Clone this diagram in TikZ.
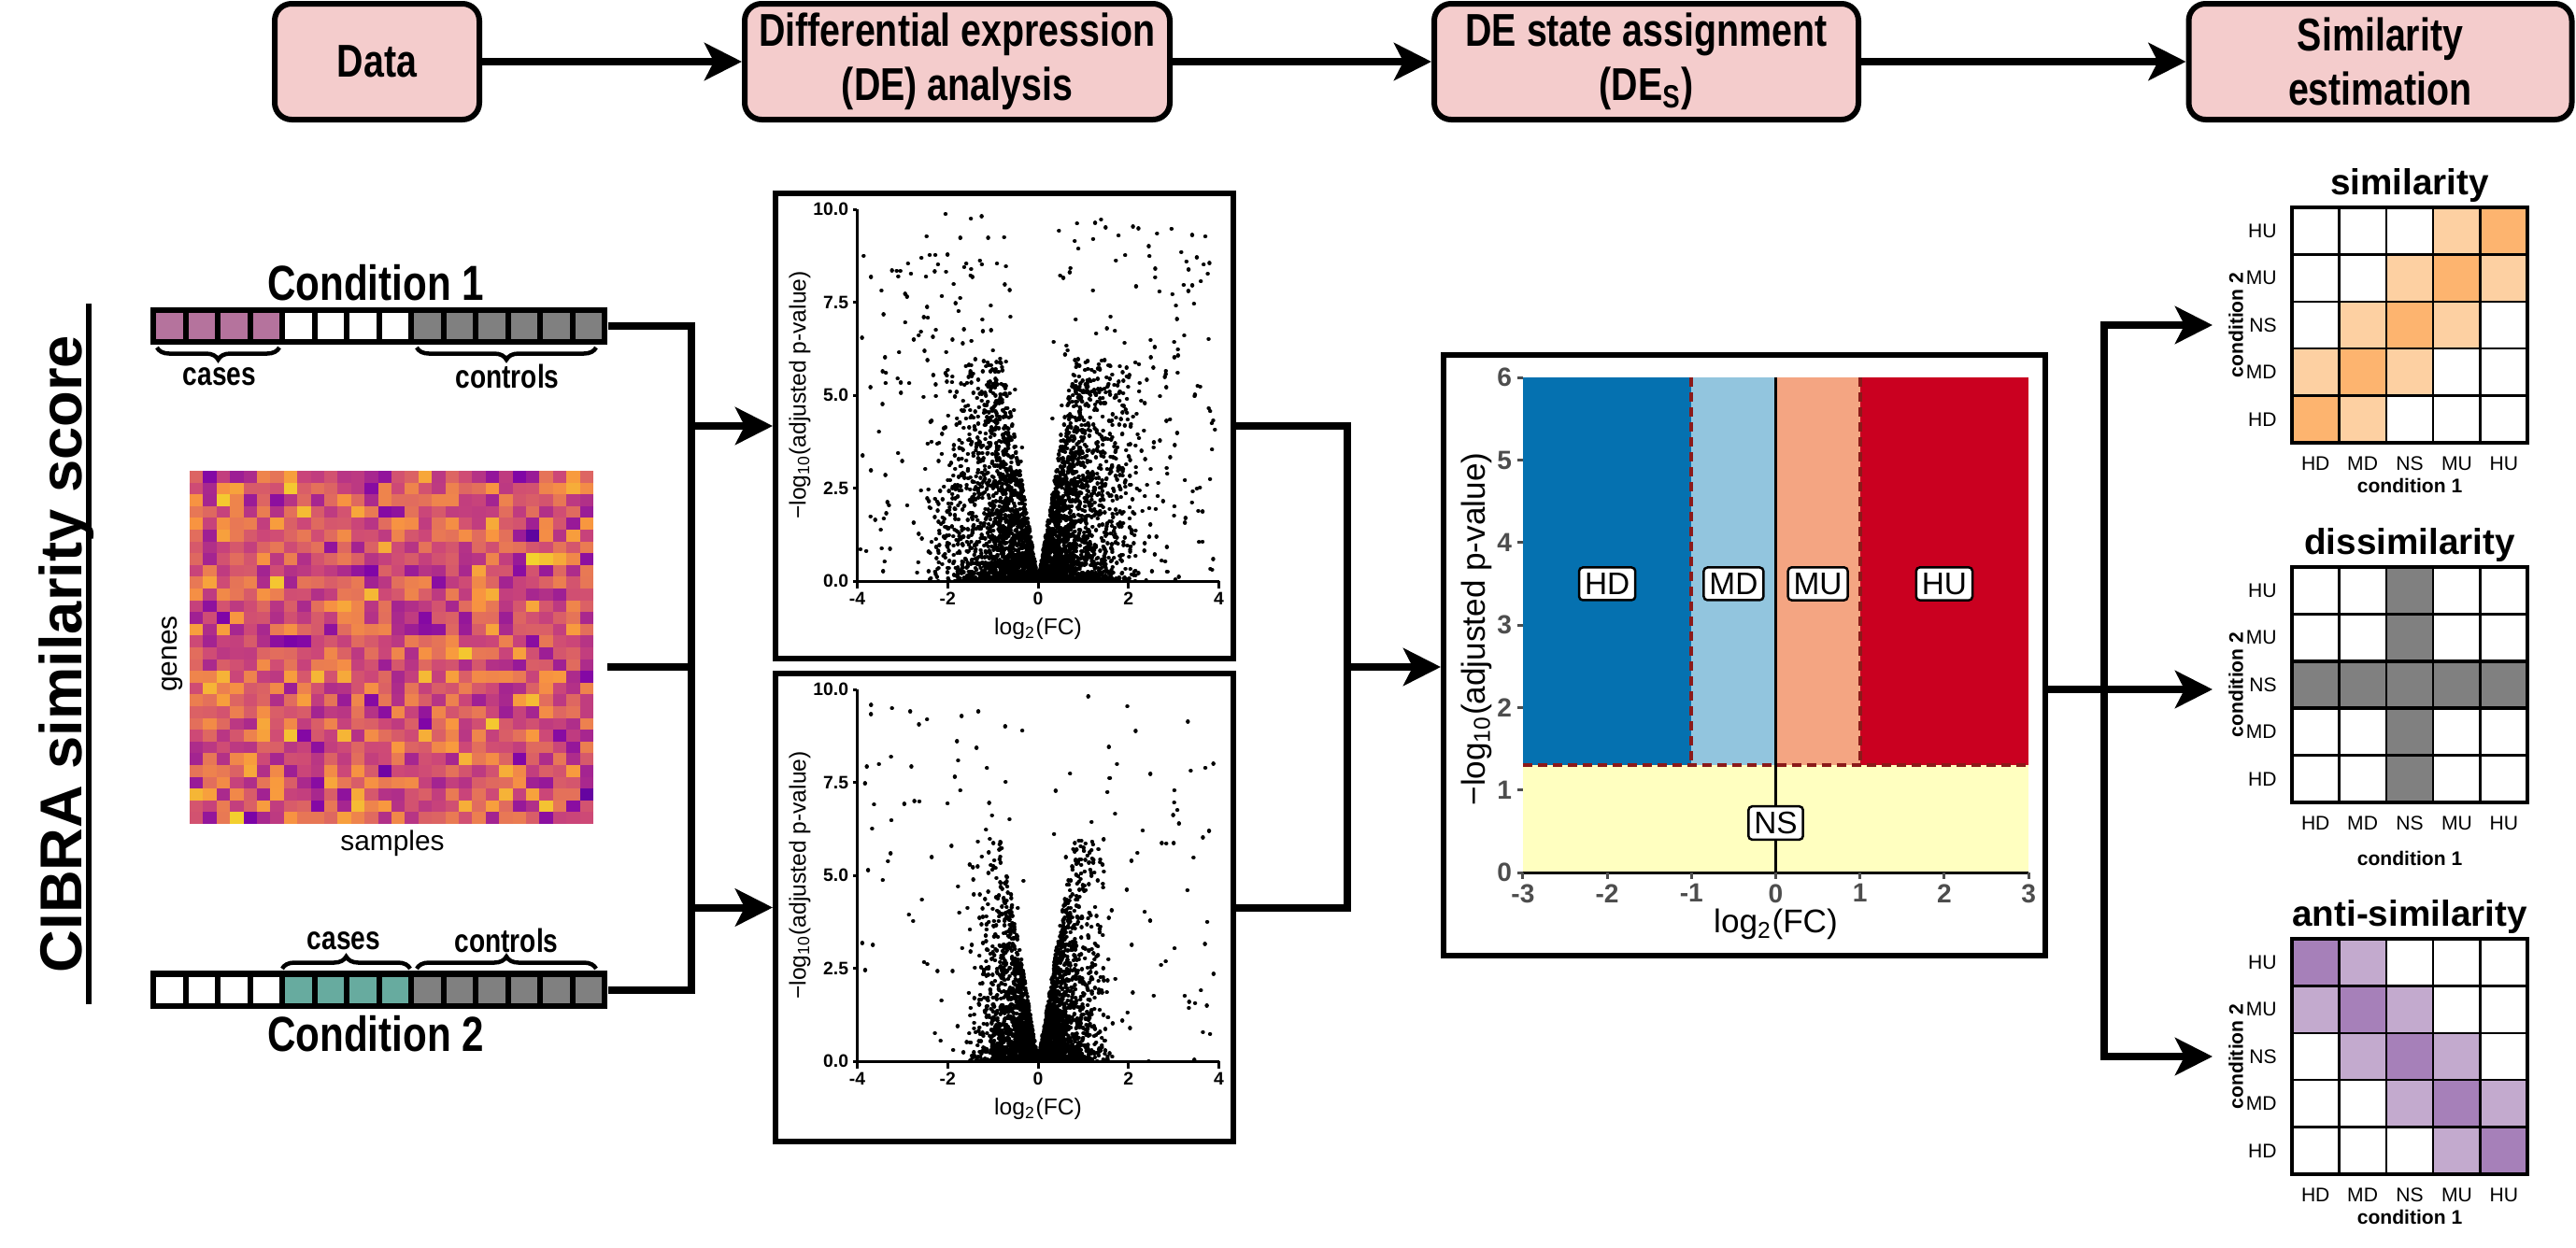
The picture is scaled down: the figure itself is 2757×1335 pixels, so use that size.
\documentclass[tikz,border=0pt]{standalone}
\usepackage{fontspec}
\setmainfont{Liberation Sans}
\newfontfamily\narrowfont[FakeStretch=0.8]{Liberation Sans}
\usetikzlibrary{arrows.meta,decorations.pathreplacing}

\definecolor{boxpink}{HTML}{F4CCCC}
\definecolor{casepurple}{HTML}{B5739D}
\definecolor{caseteal}{HTML}{67AB9F}
\definecolor{ctrlgray}{HTML}{808080}
\definecolor{hdblue}{HTML}{0571B0}
\definecolor{mdblue}{HTML}{92C5DE}
\definecolor{musalmon}{HTML}{F4A582}
\definecolor{hured}{HTML}{CA0020}
\definecolor{nsyellow}{HTML}{FFFFC0}
\definecolor{cutred}{HTML}{8B1A1A}
\definecolor{tickgray}{HTML}{4D4D4D}
\definecolor{simdark}{HTML}{FDB46F}
\definecolor{simlight}{HTML}{FDD0A2}
\definecolor{antidark}{HTML}{A680B9}
\definecolor{antilight}{HTML}{C3AACE}
\definecolor{plA}{HTML}{0D0887}
\definecolor{plB}{HTML}{7E03A8}
\definecolor{plC}{HTML}{CC4778}
\definecolor{plD}{HTML}{F89540}
\definecolor{plE}{HTML}{F0F921}

\tikzset{
  stepbox/.style={draw, line width=0.6mm, fill=boxpink, rounded corners=1.8mm, align=center,
    minimum height=12.4mm, inner sep=0pt, font=\narrowfont\bfseries\fontsize{14}{16.5}\selectfont},
  flow/.style={line width=0.8mm},
  flowarrow/.style={flow, -{Stealth[length=4mm,width=4mm,inset=1mm]}},
  panel/.style={draw, line width=0.6mm, inner sep=0pt},
  bartext/.style={font=\narrowfont\bfseries\fontsize{15}{17}\selectfont},
  bracetext/.style={font=\narrowfont\bfseries\fontsize{10}{11}\selectfont},
  bracedeco/.style={decorate, decoration={brace, amplitude=1.3mm}, line width=0.45mm},
  dots/.style={line width=0.44mm, line cap=round},
  vtick/.style={font=\bfseries\fontsize{5.5}{6}\selectfont, inner sep=0.3mm},
  vaxis/.style={font=\fontsize{7}{8}\selectfont},
  detick/.style={font=\bfseries\fontsize{8}{9}\selectfont, text=tickgray, inner sep=0.4mm},
  statelab/.style={draw, fill=white, line width=0.25mm, rounded corners=0.4mm, inner sep=0.6mm,
    font=\fontsize{9.5}{10}\selectfont},
  cell/.style={draw, line width=0.25mm},
  mlab/.style={font=\fontsize{6}{7}\selectfont},
  mcond/.style={font=\bfseries\fontsize{6}{7}\selectfont},
  mtitle/.style={font=\bfseries\fontsize{11}{12}\selectfont}
}

\begin{document}
\begin{tikzpicture}[x=0.1mm,y=0.1mm,yscale=-1,xscale=1]
\useasboundingbox (0,0) rectangle (2757,1335);

% pipeline steps
\node[stepbox, minimum width=21.9mm] (data) at (403.5,66) {Data};
\node[stepbox, minimum width=45.5mm] (dean) at (1024.5,66) {Differential expression\\(DE) analysis};
\node[stepbox, minimum width=45.4mm] (desa) at (1762,66) {DE state assignment\\(DE\textsubscript{S})};
\node[stepbox, minimum width=41mm] (simest) at (2547.5,66) {Similarity\\estimation};
\draw[flowarrow] (data) -- (dean);
\draw[flowarrow] (dean) -- (desa);
\draw[flowarrow] (desa) -- (simest);

% side title
\node[font=\bfseries\fontsize{18}{20}\selectfont, rotate=90, anchor=base] (cibra) at (88,700) {CIBRA similarity score};
\draw[line width=0.6mm] (95,325) -- (95,1075);

% condition 1 bar
\node[bartext] (cond1lab) at (402,303) {Condition 1};
\node[fill=black, minimum width=48.9mm, minimum height=4mm, inner sep=0pt] (cond1) at (405.5,349) {};
\foreach \i in {0,...,13}{
  \ifnum\i<4 \def\cc{casepurple}\else\ifnum\i<8 \def\cc{white}\else\def\cc{ctrlgray}\fi\fi
  \fill[\cc] (167+\i*34.5,335) rectangle ++(28.5,28);
}
\draw[bracedeco, decoration={mirror}] (168,372) -- (299,372);
\draw[bracedeco, decoration={mirror}] (446,372) -- (638,372);
\node[bracetext] (c1cases) at (235,403) {cases};
\node[bracetext] (c1ctrl) at (543,403) {controls};

% condition 2 bar
\node[fill=black, minimum width=48.9mm, minimum height=4.1mm, inner sep=0pt] (cond2) at (405.5,1059.5) {};
\foreach \i in {0,...,13}{
  \ifnum\i<4 \def\cc{white}\else\ifnum\i<8 \def\cc{caseteal}\else\def\cc{ctrlgray}\fi\fi
  \fill[\cc] (167+\i*34.5,1045.5) rectangle ++(28.5,28);
}
\draw[bracedeco] (302,1037) -- (439,1037);
\draw[bracedeco] (446,1037) -- (638,1037);
\node[bracetext] (c2cases) at (368,1007) {cases};
\node[bracetext] (c2ctrl) at (542,1007) {controls};
\node[bartext] (cond2lab) at (402,1107) {Condition 2};

% expression heatmap
\node[minimum width=43.2mm, minimum height=37.8mm, inner sep=0pt] (heat) at (419,693) {};
\pgfmathsetseed{7}
\foreach \i in {0,...,29}{\foreach \j in {0,...,29}{
  \pgfmathsetmacro\hv{max(0,min(0.999,0.55+0.14*(rand+rand+rand)))}
  \pgfmathtruncatemacro\hseg{floor(\hv*4)}
  \pgfmathtruncatemacro\hpct{(\hv*4-\hseg)*100}
  \ifcase\hseg \colorlet{hcell}{plB!\hpct!plA}\or \colorlet{hcell}{plC!\hpct!plB}\or
    \colorlet{hcell}{plD!\hpct!plC}\else \colorlet{hcell}{plE!\hpct!plD}\fi
  \fill[hcell] (203+\i*14.4,504+\j*12.6) rectangle ++(14.5,12.7);
}}
\node[font=\fontsize{8.5}{9}\selectfont, rotate=90] (genes) at (185,700) {genes};
\node[font=\fontsize{8.5}{9}\selectfont] (samples) at (420,903) {samples};

% volcano plots
\node[panel, minimum width=49mm, minimum height=49.8mm] (volc1) at (1075,456) {};
\node[panel, minimum width=49mm, minimum height=50.1mm] (volc2) at (1075,971.5) {};
\foreach \vo/\vsd/\vtail/\vcap/\vpw/\vnum/\vseed [count=\vn] in {622/0.95/0.08/6/1.8/4200/11, 1136/0.62/0.045/6/2/3400/23}{
  \begin{scope}[shift={(1111,\vo)}, x=4.84mm, y=-3.98mm]
    \pgfmathsetseed{\vseed}
    \draw[dots] foreach \k in {1,...,\vnum}{
      \pgfextra{
        \pgfmathtruncatemacro\tl{rnd<\vtail}
        \ifnum\tl=1
          \pgfmathsetmacro\ax{0.3+3.65*rnd}\pgfmathsetmacro\vy{9.9*pow(rnd,1.1)}
        \else
          \pgfmathsetmacro\ax{\vsd*abs(rand+rand+rand)}\pgfmathsetmacro\vy{min(7.5*\ax,\vcap)*pow(rnd,\vpw)}
        \fi
        \pgfmathsetmacro\sg{ifthenelse(rand<0,-1,1)}
      }
      ({\sg*\ax},\vy) -- ++(0.002,0)
    };
    \draw[line width=0.3mm] (-4,10) -- (-4,0) -- (4,0);
    \foreach \t/\l [count=\n] in {0/0.0, 2.5/2.5, 5/5.0, 7.5/7.5, 10/10.0}
      \draw[line width=0.3mm] (-4,\t) -- ++(-0.1,0) node[vtick, anchor=east] (v\vn-yt\n) {\l};
    \foreach \t [count=\n] in {-4,-2,0,2,4}
      \draw[line width=0.3mm] (\t,0) -- ++(0,-0.2) node[vtick, anchor=north] (v\vn-xt\n) {\t};
    \node[vaxis, rotate=90] (v\vn-ylab) at (-5.27,5) {−log\textsubscript{10}(adjusted p-value)};
    \node[vaxis] (v\vn-xlab) at (0,-1.28) {log\textsubscript{2}(FC)};
  \end{scope}
}

% DE state plot
\node[panel, minimum width=64.4mm, minimum height=64.3mm] (desplot) at (1867,701.5) {};
\begin{scope}[shift={(1900.5,934)}, x=9.02mm, y=-8.83mm]
  \fill[hdblue] (-3,1.3) rectangle (-1,6);
  \fill[mdblue] (-1,1.3) rectangle (0,6);
  \fill[musalmon] (0,1.3) rectangle (1,6);
  \fill[hured] (1,1.3) rectangle (3,6);
  \fill[nsyellow] (-3,0) rectangle (3,1.3);
  \draw[cutred, line width=0.4mm, dash pattern=on 1mm off 0.6mm] (-1,6) -- (-1,1.3) (1,6) -- (1,1.3) (-3,1.3) -- (3,1.3);
  \draw[line width=0.3mm] (0,0) -- (0,6);
  \draw[line width=0.3mm] (-3,0) -- (3,0);
  \foreach \t in {0,...,6}
    \draw[line width=0.3mm, tickgray] (-3,\t) -- ++(-0.07,0) node[detick, anchor=east] (dy\t) {\t};
  \foreach \t [count=\n] in {-3,...,3}
    \draw[line width=0.3mm, tickgray] (\t,0) -- ++(0,-0.08) node[detick, anchor=north] (dx\n) {\t};
  \node[font=\fontsize{10}{11}\selectfont, rotate=90] (deylab) at (-3.55,2.95) {−log\textsubscript{10}(adjusted p-value)};
  \node[font=\fontsize{10}{11}\selectfont] (dexlab) at (0,-0.63) {log\textsubscript{2}(FC)};
  \node[statelab] (labhd) at (-2,3.5) {HD};
  \node[statelab] (labmd) at (-0.5,3.5) {MD};
  \node[statelab] (labmu) at (0.5,3.5) {MU};
  \node[statelab] (labhu) at (2,3.5) {HU};
  \node[statelab] (labns) at (0,0.6) {NS};
\end{scope}

% connectors
\coordinate (ltop) at (740,349);
\coordinate (lbot) at (740,1059.5);
\coordinate (hmout) at (650,714);
\draw[flow] (cond1.east) -- (ltop) -- (lbot) -- (cond2.east);
\draw[flow] (hmout) -- (hmout -| ltop);
\draw[flowarrow] (ltop |- volc1.west) -- (volc1.west);
\draw[flowarrow] (ltop |- volc2.west) -- (volc2.west);

\coordinate (mhub) at (1442,714);
\draw[flow] (volc1.east) -- (volc1.east -| mhub) -- (volc2.east -| mhub) -- (volc2.east);
\draw[flowarrow] (mhub) -- (mhub -| desplot.west);

\coordinate (deout) at (2189,738);
\coordinate (rtop) at (2252,348);
\coordinate (rbot) at (2252,1131);
\coordinate (simtip) at (2368,348);
\coordinate (distip) at (2368,738);
\coordinate (antitip) at (2368,1131);
\draw[flowarrow] (deout) -- (distip);
\draw[flowarrow] (rtop |- distip) -- (rtop) -- (simtip);
\draw[flowarrow] (rtop |- distip) -- (rbot) -- (antitip);

% similarity matrices
\foreach \r in {0,...,4}{\foreach \c in {0,...,4}{
  \pgfmathtruncatemacro\dd{abs(\c+\r-4)}
  \ifcase\dd \def\cc{simdark}\or \def\cc{simlight}\else \def\cc{white}\fi
  \draw[cell, fill=\cc] (2453+\c*50.4,222+\r*50.4) rectangle ++(50.4,50.4);
}}
\foreach \r in {0,...,4}{\foreach \c in {0,...,4}{
  \pgfmathtruncatemacro\dd{(\r==2)||(\c==2)}
  \ifcase\dd \def\cc{white}\else \def\cc{ctrlgray}\fi
  \draw[cell, fill=\cc] (2453+\c*50.4,607+\r*50.4) rectangle ++(50.4,50.4);
}}
\draw[line width=0.35mm] (2453,607+2*50.4) rectangle ++(252,50.4);
\foreach \r in {0,...,4}{\foreach \c in {0,...,4}{
  \pgfmathtruncatemacro\dd{abs(\c-\r)}
  \ifcase\dd \def\cc{antidark}\or \def\cc{antilight}\else \def\cc{white}\fi
  \draw[cell, fill=\cc] (2453+\c*50.4,1005+\r*50.4) rectangle ++(50.4,50.4);
}}
\foreach \mn/\mt/\mname/\mgap in {sim/222/similarity/46, dis/607/dissimilarity/60, anti/1005/anti-similarity/46}{
  \draw[line width=0.35mm] (2453,\mt) rectangle ++(252,252);
  \node[mtitle] (\mn-title) at (2579,\mt-24) {\mname};
  \foreach \l [count=\n from 0] in {HU,MU,NS,MD,HD}
    \node[mlab, anchor=east] (\mn-r\n) at (2449,\mt+25.2+\n*50.4) {\l};
  \foreach \l [count=\n from 0] in {HD,MD,NS,MU,HU}
    \node[mlab] (\mn-c\n) at (2478.2+\n*50.4,\mt+274) {\l};
  \node[mcond] (\mn-cond1) at (2579,\mt+252+\mgap) {condition 1};
  \node[mcond, rotate=90] (\mn-cond2) at (2393,\mt+126) {condition 2};
}
\end{tikzpicture}
\end{document}
